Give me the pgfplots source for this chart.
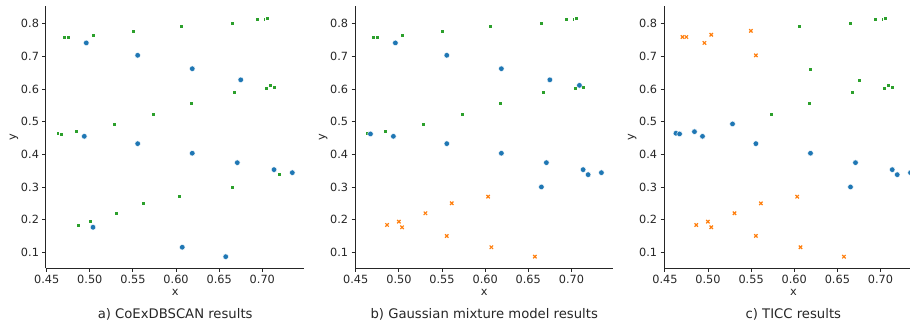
\documentclass[border=0pt]{standalone}
\usepackage{fontspec}
\setmainfont{DejaVu Sans}
\usepackage{pgfplots}
\pgfplotsset{compat=1.18}
\definecolor{tblue}{HTML}{1F77B4}
\definecolor{torange}{HTML}{FF7F0E}
\definecolor{tgreen}{HTML}{2CA02C}
\definecolor{txt}{HTML}{262626}
\pgfplotsset{
  panel/.style={
    scale only axis, width=258.3pt, height=262.3pt,
    xmin=0.4492, xmax=0.7487, ymin=0.0510, ymax=0.8540,
    axis x line*=bottom, axis y line*=left,
    axis line style={color=txt, line width=1pt},
    tick align=outside, major tick length=3.5pt,
    tick style={color=txt, line width=0.9pt},
    xtick={0.45,0.5,0.55,0.6,0.65,0.7},
    ytick={0.1,0.2,0.3,0.4,0.5,0.6,0.7,0.8},
    xticklabel style={/pgf/number format/.cd, fixed, fixed zerofill, precision=2},
    yticklabel style={/pgf/number format/.cd, fixed, fixed zerofill, precision=1},
    /pgf/number format/assume math mode=true,
    ticklabel style={font=\fontsize{11.3}{13}\selectfont, text=txt},
    label style={font=\fontsize{11.3}{13}\selectfont, text=txt},
    xlabel={x}, ylabel={y},
    xlabel style={at={(axis description cs:0.5,0)}, anchor=base, yshift=-27.7pt},
    ylabel style={at={(axis description cs:0,0.5)}, anchor=center, yshift=32pt},
    clip=false,
  },
  cb/.style={only marks, mark=*, mark size=2.8pt, mark options={fill=tblue, draw=white, line width=0.4pt}},
  cg/.style={only marks, mark=square*, mark size=2.0pt, mark options={fill=tgreen, draw=white, line width=0.35pt}},
  co/.style={only marks, mark=x, mark size=2.4pt, mark options={draw=torange, line width=1.2pt}},
}
\begin{document}
\begin{tikzpicture}
\useasboundingbox (0pt,0pt) rectangle (910pt,324pt);
% ---------- a) CoExDBSCAN ----------
\begin{axis}[panel, at={(46pt,55.7pt)}, anchor=south west]
\addplot[cg] coordinates {
(0.4628,0.4644) (0.4670,0.4623) (0.4704,0.759) (0.4749,0.759) (0.4843,0.4693)
(0.4863,0.1836) (0.4999,0.1938) (0.5037,0.766) (0.5284,0.493) (0.5307,0.2195)
(0.5497,0.778) (0.5613,0.250) (0.5730,0.5226) (0.6034,0.2703) (0.6057,0.792)
(0.6173,0.558) (0.6652,0.801) (0.6652,0.300) (0.6672,0.590) (0.6942,0.815)
(0.7031,0.815) (0.7040,0.602) (0.7058,0.817) (0.7093,0.611) (0.7136,0.606)
(0.7194,0.3377)};
\addplot[cb] coordinates {
(0.4936,0.455) (0.4959,0.741) (0.5037,0.1766) (0.5555,0.703) (0.5555,0.4326)
(0.6072,0.1154) (0.6188,0.662) (0.6188,0.4032) (0.6576,0.0866) (0.6710,0.3744)
(0.6750,0.628) (0.7136,0.353) (0.7348,0.3438)};
\end{axis}
\node[anchor=base, text=txt, font=\fontsize{13.2}{15}\selectfont] at (175.15pt,6pt) {a) CoExDBSCAN results};
% ---------- b) Gaussian mixture ----------
\begin{axis}[panel, at={(355.1pt,55.7pt)}, anchor=south west]
\addplot[cg] coordinates {
(0.4628,0.4644) (0.4704,0.759) (0.4749,0.759) (0.4843,0.4693) (0.5037,0.766)
(0.5284,0.493) (0.5497,0.778) (0.5730,0.5226) (0.6057,0.792) (0.6173,0.558)
(0.6652,0.801) (0.6672,0.590) (0.6942,0.815) (0.7031,0.815) (0.7040,0.602)
(0.7058,0.817) (0.7136,0.606)};
\addplot[co] coordinates {
(0.4863,0.1836) (0.4999,0.1938) (0.5037,0.1766) (0.5307,0.2195) (0.5555,0.150)
(0.5613,0.250) (0.6034,0.2703) (0.6072,0.1154) (0.6576,0.0866)};
\addplot[cb] coordinates {
(0.4670,0.4623) (0.4936,0.455) (0.4959,0.741) (0.5555,0.703) (0.5555,0.4326)
(0.6188,0.662) (0.6188,0.4032) (0.6652,0.300) (0.6710,0.3744) (0.6750,0.628)
(0.7093,0.611) (0.7136,0.353) (0.7194,0.3377) (0.7348,0.3438)};
\end{axis}
\node[anchor=base, text=txt, font=\fontsize{13.2}{15}\selectfont] at (484.25pt,6pt) {b) Gaussian mixture model results};
% ---------- c) TICC ----------
\begin{axis}[panel, at={(664.2pt,55.7pt)}, anchor=south west]
\addplot[cg] coordinates {
(0.5730,0.5226) (0.6057,0.792) (0.6173,0.558) (0.6188,0.662) (0.6652,0.801)
(0.6672,0.590) (0.6750,0.628) (0.6942,0.815) (0.7031,0.815) (0.7040,0.602)
(0.7058,0.817) (0.7093,0.611) (0.7136,0.606)};
\addplot[co] coordinates {
(0.4704,0.759) (0.4749,0.759) (0.4863,0.1836) (0.4959,0.741) (0.4999,0.1938)
(0.5037,0.766) (0.5037,0.1766) (0.5307,0.2195) (0.5497,0.778) (0.5555,0.703)
(0.5555,0.150) (0.5613,0.250) (0.6034,0.2703) (0.6072,0.1154) (0.6576,0.0866)};
\addplot[cb] coordinates {
(0.4628,0.4644) (0.4670,0.4623) (0.4843,0.4693) (0.4936,0.455) (0.5284,0.493)
(0.5555,0.4326) (0.6188,0.4032) (0.6652,0.300) (0.6710,0.3744) (0.7136,0.353)
(0.7194,0.3377) (0.7348,0.3438)};
\end{axis}
\node[anchor=base, text=txt, font=\fontsize{13.2}{15}\selectfont] at (793.35pt,6pt) {c) TICC results};
\end{tikzpicture}
\end{document}
